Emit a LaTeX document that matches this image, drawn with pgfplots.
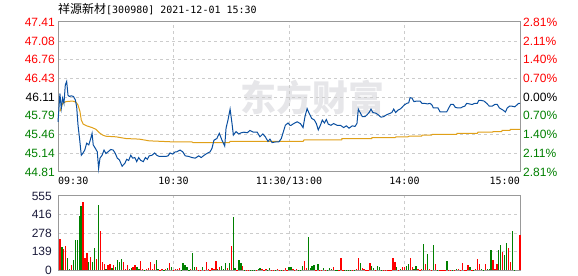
\documentclass[border=0pt]{standalone}
\usepackage{fontspec}
\setmainfont{Liberation Sans}
\newfontfamily\cjk{Noto Sans CJK SC}
\newfontfamily\mono{DejaVu Sans Mono}
\usepackage{pgfplots}
\pgfplotsset{compat=1.18}
\definecolor{upred}{HTML}{FF0000}
\definecolor{dngreen}{HTML}{008000}
\definecolor{priceblue}{HTML}{0A4FA0}
\definecolor{avgorange}{HTML}{E0A018}
\definecolor{framegray}{HTML}{999999}
\definecolor{gridgray}{HTML}{CCCCCC}
\definecolor{wm}{HTML}{E6E6E9}
\definecolor{volnavy}{HTML}{1A1A3A}
\pgfplotsset{
  panel/.style={
    scale only axis, width=462bp, xmin=0, xmax=240,
    axis line style={framegray, line width=1bp},
    xtick={60,120,180}, xticklabels={}, yticklabels={},
    major tick length=0pt,
    grid=major, grid style={gridgray, line width=0.8bp, dash pattern=on 3bp off 3bp},
    clip=false,
  },
}
\begin{document}
\begin{tikzpicture}
\path[use as bounding box] (0,0) rectangle (578bp,276bp);
\node[anchor=west, inner sep=0] at (58bp,267bp) {\cjk\fontsize{12bp}{14bp}\selectfont 祥源新材\mono\fontsize{10bp}{12bp}\selectfont[300980] 2021-12-01 15:30};
\node[text=wm, inner sep=0] at (312bp,178bp) {\cjk\bfseries\fontsize{36bp}{38bp}\selectfont 东方财富};

% ---------- price panel ----------
\begin{axis}[panel, at={(58bp,104bp)}, anchor=south west, height=150bp,
  ymin=44.81, ymax=47.41,
  ytick={45.14,45.46,45.79,46.11,46.43,46.76,47.08}]
\addplot[avgorange, line width=1bp] table {
1.0 45.86
2.4 46.00
4.2 46.03
7.6 46.04
9.4 46.02
10.4 45.97
11.4 45.86
12.1 45.71
13.1 45.64
14.9 45.61
17.7 45.58
19.7 45.55
21.5 45.49
23.2 45.45
24.9 45.43
30.1 45.42
35.3 45.39
42.2 45.38
47.4 45.35
54.4 45.34
60.9 45.33
69.6 45.33
70.1 45.32
89.0 45.32
89.4 45.34
127.3 45.34
127.8 45.365
147.4 45.365
147.5 45.39
163.0 45.39
163.1 45.405
175.1 45.405
175.6 45.42
181.8 45.42
182.4 45.43
188.9 45.43
189.1 45.45
194.1 45.45
194.3 45.46
207.1 45.46
207.3 45.48
217.8 45.48
218.2 45.50
225.8 45.50
226.0 45.51
230.5 45.51
230.7 45.53
234.8 45.53
235.0 45.55
240 45.55
};
\addplot[priceblue, line width=1bp] table {
0 45.68
1.0 46.17
1.7 45.91
2.4 46.09
3.1 46.00
3.8 46.32
4.5 46.38
5.2 46.14
5.9 46.12
6.9 46.13
8.0 46.12
9.0 46.06
9.7 45.94
10.4 45.62
11.1 45.42
12.1 45.10
12.8 45.13
13.9 45.19
14.9 45.31
16.0 45.28
17.0 45.39
17.7 45.48
18.3 45.28
19.4 45.22
20.4 45.16
21.1 44.87
21.8 45.05
22.9 45.10
23.9 45.19
24.9 45.13
26.0 45.16
27.4 45.20
28.7 45.19
29.8 45.13
30.8 45.05
31.9 45.02
33.3 44.91
34.7 44.96
35.7 45.03
36.7 45.01
37.8 45.10
38.8 45.05
39.9 45.06
40.9 44.99
41.9 45.06
43.0 45.01
44.3 44.99
45.4 45.06
46.4 45.03
47.4 45.09
48.8 45.10
50.2 45.14
51.3 45.10
52.6 45.08
54.4 45.08
56.1 45.08
57.2 45.09
58.2 45.14
59.6 45.12
60.9 45.16
61.7 45.16
63.4 45.19
64.8 45.16
66.1 45.09
67.9 45.08
69.6 45.06
71.3 45.05
73.1 45.09
74.4 45.06
75.9 45.10
77.3 45.13
79.0 45.16
80.0 45.22
81.0 45.36
82.5 45.39
83.8 45.48
85.2 45.36
86.6 45.26
87.3 45.57
88.3 45.71
89.4 45.90
90.4 45.65
91.1 45.45
92.5 45.51
93.9 45.47
95.2 45.49
96.6 45.50
98.3 45.49
99.7 45.53
101.5 45.50
103.5 45.50
104.9 45.42
106.4 45.47
107.7 45.42
109.1 45.34
110.1 45.38
111.2 45.32
112.9 45.33
114.7 45.33
116.0 45.39
117.1 45.51
118.1 45.62
119.5 45.66
120.5 45.62
121.1 45.62
122.5 45.65
124.2 45.68
125.9 45.65
127.3 45.58
128.3 45.77
129.4 45.91
130.4 45.83
131.8 45.74
133.2 45.71
134.2 45.65
135.2 45.54
136.3 45.62
137.3 45.71
138.4 45.66
139.4 45.72
140.4 45.64
141.8 45.62
143.2 45.65
144.9 45.62
146.7 45.62
148.4 45.58
149.8 45.61
151.2 45.57
152.9 45.61
154.3 45.60
155.3 45.65
156.0 45.90
157.1 45.83
158.1 45.77
159.5 45.77
160.5 45.80
161.6 45.84
162.6 45.90
163.6 45.84
165.1 45.83
166.4 45.80
167.8 45.76
169.2 45.77
170.6 45.80
172.0 45.82
173.4 45.84
174.4 45.90
175.4 45.84
176.5 45.88
177.7 45.90
178.7 45.93
179.8 45.97
181.2 46.00
182.2 46.01
182.9 46.10
183.9 46.09
184.9 46.03
186.4 46.04
188.1 46.04
189.1 46.00
190.5 46.00
191.9 45.99
193.3 46.00
194.3 45.97
195.0 45.92
196.4 45.92
197.4 45.92
198.5 45.85
200.2 45.85
201.9 45.85
203.0 45.92
204.0 45.98
205.4 45.98
206.4 45.93
207.8 45.92
209.2 45.92
210.2 45.94
211.3 45.95
212.3 46.00
213.7 45.99
215.1 45.98
216.5 46.00
217.8 46.00
218.6 46.05
219.9 46.05
221.3 46.04
222.7 46.00
224.1 45.95
225.5 45.95
226.9 45.98
228.2 45.98
229.3 45.92
230.3 45.90
231.3 45.88
232.4 45.85
233.4 45.92
234.5 45.95
235.9 45.95
237.3 45.94
238.3 45.97
239.3 46.00
240 46.00
};
% left price labels
\begin{scope}[every node/.style={inner sep=0, font=\fontsize{12bp}{14bp}\selectfont}]
\node[anchor=east, text=upred, xshift=-3bp] at (axis cs:0,47.41) {47.41};
\node[anchor=east, text=upred, xshift=-3bp] at (axis cs:0,47.08) {47.08};
\node[anchor=east, text=upred, xshift=-3bp] at (axis cs:0,46.76) {46.76};
\node[anchor=east, text=upred, xshift=-3bp] at (axis cs:0,46.43) {46.43};
\node[anchor=east, text=black, xshift=-3bp] at (axis cs:0,46.11) {46.11};
\node[anchor=east, text=dngreen, xshift=-3bp] at (axis cs:0,45.79) {45.79};
\node[anchor=east, text=dngreen, xshift=-3bp] at (axis cs:0,45.46) {45.46};
\node[anchor=east, text=dngreen, xshift=-3bp] at (axis cs:0,45.14) {45.14};
\node[anchor=east, text=dngreen, xshift=-3bp] at (axis cs:0,44.81) {44.81};
% right percentage labels
\node[anchor=west, text=upred, xshift=3bp] at (axis cs:240,47.41) {2.81\%};
\node[anchor=west, text=upred, xshift=3bp] at (axis cs:240,47.08) {2.11\%};
\node[anchor=west, text=upred, xshift=3bp] at (axis cs:240,46.76) {1.40\%};
\node[anchor=west, text=upred, xshift=3bp] at (axis cs:240,46.43) {0.70\%};
\node[anchor=west, text=black, xshift=3bp] at (axis cs:240,46.11) {0.00\%};
\node[anchor=west, text=dngreen, xshift=3bp] at (axis cs:240,45.79) {0.70\%};
\node[anchor=west, text=dngreen, xshift=3bp] at (axis cs:240,45.46) {1.40\%};
\node[anchor=west, text=dngreen, xshift=3bp] at (axis cs:240,45.14) {2.11\%};
\node[anchor=west, text=dngreen, xshift=3bp] at (axis cs:240,44.81) {2.81\%};
\end{scope}
% time labels
\begin{scope}[every node/.style={inner sep=0, font=\mono\fontsize{10bp}{12bp}\selectfont, yshift=-5bp}]
\node[anchor=north west] at (axis cs:0,44.81) {09:30};
\node[anchor=north] at (axis cs:60,44.81) {10:30};
\node[anchor=north] at (axis cs:120,44.81) {11:30/13:00};
\node[anchor=north] at (axis cs:180,44.81) {14:00};
\node[anchor=north east] at (axis cs:240,44.81) {15:00};
\end{scope}
\end{axis}

% ---------- volume panel ----------
\begin{axis}[panel, at={(58bp,6bp)}, anchor=south west, height=74bp,
  ymin=0, ymax=555, ytick={139,278,416}]
\addplot[ycomb, upred, line width=1.3bp] table {
1 233
3 156
4 179
7 41
13 513
14 93
15 124
17 101
20 86
22 296
23 62
24 47
26 34
27 47
29 39
34 62
35 10
36 39
39 23
40 39
43 70
44 8
46 8
47 16
48 62
49 8
50 47
53 3
54 8
56 8
58 54
60 3
61 8
62 8
63 16
69 8
72 23
73 3
74 3
76 3
77 62
78 8
79 3
80 16
81 8
82 70
84 23
88 16
90 179
93 3
96 31
98 3
99 3
103 3
106 8
107 3
108 8
111 3
112 3
114 8
115 3
117 3
118 16
119 3
122 10
123 3
124 10
128 70
129 16
134 3
136 3
137 3
139 3
143 23
146 3
147 93
148 3
153 3
155 8
156 93
158 16
159 8
160 3
161 3
162 54
165 3
169 3
170 3
171 3
172 3
173 3
174 93
175 62
177 3
179 23
180 23
183 93
184 23
187 8
188 3
189 8
191 47
193 8
194 3
196 47
198 3
199 3
200 3
201 3
203 3
204 3
206 3
208 8
209 3
210 54
211 3
212 3
213 39
215 3
217 8
218 86
219 47
222 47
226 78
227 8
228 47
231 132
234 163
235 62
240 264
};
\addplot[ycomb, dngreen, line width=1.3bp] table {
2 171
5 93
6 5
8 78
9 226
10 226
11 405
12 482
16 62
18 62
19 163
21 490
25 10
28 16
30 23
31 78
32 62
33 86
37 5
38 16
41 23
42 8
45 3
51 78
52 8
55 3
57 16
59 23
64 3
65 54
66 39
67 23
68 3
70 124
71 23
75 23
83 8
85 31
86 8
87 54
89 54
91 397
92 16
94 78
95 54
97 3
100 3
101 3
102 3
104 8
105 16
109 3
110 16
113 3
116 3
120 23
121 23
125 3
126 3
127 31
130 249
131 16
132 31
133 39
135 47
138 16
140 3
141 16
142 8
144 3
145 3
149 3
150 3
151 3
152 3
154 3
157 54
163 31
164 16
166 31
167 23
168 3
176 23
178 8
181 31
182 47
185 8
186 31
190 194
192 117
195 187
197 3
202 70
205 3
207 8
214 23
216 3
220 8
221 3
223 8
224 8
225 148
229 148
230 187
232 109
233 202
236 296
237 3
};
\begin{scope}[every node/.style={inner sep=0, text=volnavy, anchor=east, xshift=-6bp, font=\fontsize{12bp}{14bp}\selectfont}]
\node at (axis cs:0,555) {555};
\node at (axis cs:0,416) {416};
\node at (axis cs:0,278) {278};
\node at (axis cs:0,139) {139};
\node at (axis cs:0,0) {0};
\end{scope}
\end{axis}
\end{tikzpicture}
\end{document}
